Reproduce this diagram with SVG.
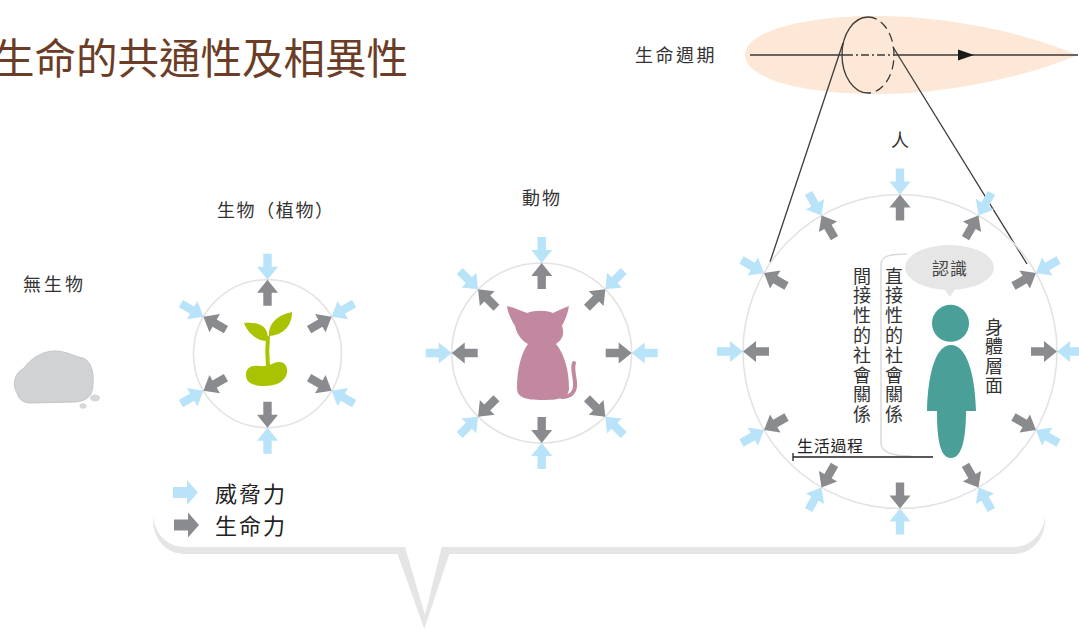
<svg xmlns="http://www.w3.org/2000/svg" xmlns:xlink="http://www.w3.org/1999/xlink" width="1079" height="629" viewBox="0 0 1079 629">
  <style>
    .cjk { font-family: "Noto Sans CJK TC", "Noto Sans CJK SC", sans-serif; }
    .label { fill: #333333; font-size: 18px; }
    .ring { fill: none; stroke: #e3e3e3; stroke-width: 1.6; }
    .life { fill: #8a8b8f; }
    .threat { fill: #b8e3f8; }
    .guide { fill: none; stroke: #3a3a3a; stroke-width: 1.3; }
    .vert { fill: #333333; font-size: 18px; text-anchor: middle; }
  </style>
  <defs>
    <!-- block arrow, tip at the origin, pointing along +x -->
    <path id="arr" d="M0,0 L-13,-10.5 L-13,-4.2 L-26,-4.2 L-26,4.2 L-13,4.2 L-13,10.5 Z"/>
    <!-- larger arrow used in the key -->
    <path id="key-arr" d="M0,0 L-11,-12.5 L-11,-5.5 L-25,-5.5 L-25,5.5 L-11,5.5 L-11,12.5 Z"/>
  </defs>

  <!-- speech-bubble style frame along the bottom -->
  <g id="callout">
    <path d="M153,500 L153,520 C153,539 166,554 185,554 L397.5,554 L424.3,629 L449.3,554 L1013,554 C1032,554 1045,539 1045,520 L1045,500 Z" fill="#e5e5e6"/>
    <path d="M153,492 L153,513 C153,532 166,547 185,547 L405,547 L425,615 L441.7,547 L1013,547 C1032,547 1045,532 1045,513 L1045,492 Z" fill="#ffffff"/>
  </g>

  <!-- heading -->
  <g id="title">
    <text class="cjk" x="-7" y="74" font-size="41.5" fill="#6b3d27">生命的共通性及相異性</text>
  </g>

  <!-- life cycle band -->
  <g id="lifecycle">
    <path d="M745,55 C745,31 805,16 875,16 C950,16 1025,33 1078,55 C1025,77 950,94 875,94 C805,94 745,79 745,55 Z" fill="#fde8d7"/>
    <line class="guide" x1="750" y1="55" x2="845" y2="55"/>
    <line class="guide" x1="845" y1="55" x2="893" y2="55" stroke-dasharray="8 3 2 3"/>
    <line class="guide" x1="893" y1="55" x2="1078" y2="55"/>
    <path d="M958,49.5 L974,55 L958,60.5 Z" fill="#1a1a1a"/>
    <path class="guide" d="M868,17 A26,38 0 0 0 868,93"/>
    <path class="guide" d="M868,17 A26,38 0 0 1 868,93" stroke-dasharray="9 5"/>
    <text class="cjk label" x="635" y="62" font-size="19" letter-spacing="2.5">生命週期</text>
  </g>

  <!-- lines opening the cross-section out to the person -->
  <g id="connectors">
    <line class="guide" x1="843" y1="43" x2="770" y2="262"/>
    <line class="guide" x1="893" y1="47" x2="1027" y2="264"/>
  </g>

  <!-- inanimate object: a stone -->
  <g id="node-inanimate">
    <text class="cjk label" x="23" y="291" letter-spacing="3">無生物</text>
    <path d="M17,393 C12,385 14,373 24,368 C31,358 44,350 57,351 C69,352 75,357 83,358 C91,361 94,372 93,383 C93,395 88,401 75,402 L31,403 C22,403 19,399 17,393 Z" fill="#d1d2d4" stroke="#c5c6c8" stroke-width="1"/>
    <ellipse cx="95" cy="398" rx="5" ry="3.5" fill="#d6d7d9"/>
    <ellipse cx="83" cy="406" rx="3.5" ry="2.8" fill="#d6d7d9"/>
  </g>

  <!-- living thing: plant -->
  <g id="node-plant">
    <text class="cjk label" x="217" y="217" letter-spacing="1.6">生物（植物）</text>
    <circle class="ring" cx="267.5" cy="353.7" r="74"/>
    <g transform="translate(267.5,353.7)">
      <use href="#arr" class="life" transform="rotate(30) translate(74,0)"/>
      <use href="#arr" class="life" transform="rotate(90) translate(74,0)"/>
      <use href="#arr" class="life" transform="rotate(150) translate(74,0)"/>
      <use href="#arr" class="life" transform="rotate(210) translate(74,0)"/>
      <use href="#arr" class="life" transform="rotate(270) translate(74,0)"/>
      <use href="#arr" class="life" transform="rotate(330) translate(74,0)"/>
      <use href="#arr" class="threat" transform="rotate(30) translate(74,0) rotate(180)"/>
      <use href="#arr" class="threat" transform="rotate(90) translate(74,0) rotate(180)"/>
      <use href="#arr" class="threat" transform="rotate(150) translate(74,0) rotate(180)"/>
      <use href="#arr" class="threat" transform="rotate(210) translate(74,0) rotate(180)"/>
      <use href="#arr" class="threat" transform="rotate(270) translate(74,0) rotate(180)"/>
      <use href="#arr" class="threat" transform="rotate(330) translate(74,0) rotate(180)"/>
    </g>
    <g fill="#a9c300">
      <path d="M246,375 C246,367 252,365 260,366 C268,367 272,363 278,362 C285,361 288,367 287,373 C285,382 276,386 264,386 C252,386 246,382 246,375 Z"/>
      <path d="M268,367 C267,356 267,346 268,336" fill="none" stroke="#a9c300" stroke-width="4"/>
      <path d="M244,323 C252,322 262,323 266,330 C268,334 268,338 267,341 C258,341 248,334 244,323 Z"/>
      <path d="M269,336 C268,325 276,315 292,312 C292,325 284,335 269,336 Z"/>
    </g>
  </g>

  <!-- living thing: animal -->
  <g id="node-animal">
    <text class="cjk label" x="522" y="205" font-size="19" letter-spacing="2">動物</text>
    <circle class="ring" cx="541.7" cy="353" r="90"/>
    <g transform="translate(541.7,353)">
      <use href="#arr" class="life" transform="rotate(0) translate(90,0)"/>
      <use href="#arr" class="life" transform="rotate(45) translate(90,0)"/>
      <use href="#arr" class="life" transform="rotate(90) translate(90,0)"/>
      <use href="#arr" class="life" transform="rotate(135) translate(90,0)"/>
      <use href="#arr" class="life" transform="rotate(180) translate(90,0)"/>
      <use href="#arr" class="life" transform="rotate(225) translate(90,0)"/>
      <use href="#arr" class="life" transform="rotate(270) translate(90,0)"/>
      <use href="#arr" class="life" transform="rotate(315) translate(90,0)"/>
      <use href="#arr" class="threat" transform="rotate(0) translate(90,0) rotate(180)"/>
      <use href="#arr" class="threat" transform="rotate(45) translate(90,0) rotate(180)"/>
      <use href="#arr" class="threat" transform="rotate(90) translate(90,0) rotate(180)"/>
      <use href="#arr" class="threat" transform="rotate(135) translate(90,0) rotate(180)"/>
      <use href="#arr" class="threat" transform="rotate(180) translate(90,0) rotate(180)"/>
      <use href="#arr" class="threat" transform="rotate(225) translate(90,0) rotate(180)"/>
      <use href="#arr" class="threat" transform="rotate(270) translate(90,0) rotate(180)"/>
      <use href="#arr" class="threat" transform="rotate(315) translate(90,0) rotate(180)"/>
    </g>
    <path d="M507,306 C515,308 522,311 527,313 C535,310 546,310 553,313 C558,311 563,308 569,306 C568,313 565,320 562,326 C565,334 562,340 556,344 C564,353 569,370 569,388 C569,397 562,400 543,400 C524,400 517,397 517,388 C517,370 521,353 528,344 C521,340 517,334 515,326 C511,320 508,313 507,306 Z" fill="#c2889f"/>
    <path d="M562,397 C571,397 576,392 575,382 C574,373 572,368 574,363" fill="none" stroke="#c2889f" stroke-width="4" stroke-linecap="round"/>
  </g>

  <!-- human -->
  <g id="node-human">
    <text class="cjk label" x="900" y="147" font-size="20" text-anchor="middle">人</text>
    <circle class="ring" cx="900" cy="351.5" r="157"/>
    <g transform="translate(900,351.5)">
      <use href="#arr" class="life" transform="rotate(0) translate(157,0)"/>
      <use href="#arr" class="life" transform="rotate(30) translate(157,0)"/>
      <use href="#arr" class="life" transform="rotate(60) translate(157,0)"/>
      <use href="#arr" class="life" transform="rotate(90) translate(157,0)"/>
      <use href="#arr" class="life" transform="rotate(120) translate(157,0)"/>
      <use href="#arr" class="life" transform="rotate(150) translate(157,0)"/>
      <use href="#arr" class="life" transform="rotate(180) translate(157,0)"/>
      <use href="#arr" class="life" transform="rotate(210) translate(157,0)"/>
      <use href="#arr" class="life" transform="rotate(240) translate(157,0)"/>
      <use href="#arr" class="life" transform="rotate(270) translate(157,0)"/>
      <use href="#arr" class="life" transform="rotate(300) translate(157,0)"/>
      <use href="#arr" class="life" transform="rotate(330) translate(157,0)"/>
      <use href="#arr" class="threat" transform="rotate(0) translate(157,0) rotate(180)"/>
      <use href="#arr" class="threat" transform="rotate(30) translate(157,0) rotate(180)"/>
      <use href="#arr" class="threat" transform="rotate(60) translate(157,0) rotate(180)"/>
      <use href="#arr" class="threat" transform="rotate(90) translate(157,0) rotate(180)"/>
      <use href="#arr" class="threat" transform="rotate(120) translate(157,0) rotate(180)"/>
      <use href="#arr" class="threat" transform="rotate(150) translate(157,0) rotate(180)"/>
      <use href="#arr" class="threat" transform="rotate(180) translate(157,0) rotate(180)"/>
      <use href="#arr" class="threat" transform="rotate(210) translate(157,0) rotate(180)"/>
      <use href="#arr" class="threat" transform="rotate(240) translate(157,0) rotate(180)"/>
      <use href="#arr" class="threat" transform="rotate(270) translate(157,0) rotate(180)"/>
      <use href="#arr" class="threat" transform="rotate(300) translate(157,0) rotate(180)"/>
      <use href="#arr" class="threat" transform="rotate(330) translate(157,0) rotate(180)"/>
    </g>

    <!-- bracket grouping the direct relations -->
    <path d="M907,254 C893,254 881,255 881,264 L881,443 C881,453 893,456 911,456" fill="none" stroke="#dadada" stroke-width="1.5"/>

    <!-- thought bubble -->
    <ellipse cx="949.5" cy="267.5" rx="44.5" ry="22.5" fill="#e6e6e7"/>
    <path d="M942,286 L950,297 L957,286 Z" fill="#e6e6e7"/>
    <text class="cjk" x="950" y="275" font-size="17" fill="#444444" text-anchor="middle" letter-spacing="1">認識</text>

    <!-- figure -->
    <g fill="#4a9f98">
      <circle cx="950.5" cy="323.3" r="18.5"/>
      <path d="M951,345 C936,345 928,372 927,411 L937,411 C937,435 939,458 951,458 C963,458 966,435 966,411 L976,411 C975,372 966,345 951,345 Z"/>
    </g>

    <!-- vertical captions, one character per line -->
    <text class="cjk vert">
      <tspan x="862" y="282.5">間</tspan><tspan x="862" y="302.3">接</tspan><tspan x="862" y="322.1">性</tspan><tspan x="862" y="341.9">的</tspan><tspan x="862" y="361.7">社</tspan><tspan x="862" y="381.5">會</tspan><tspan x="862" y="401.3">關</tspan><tspan x="862" y="421.1">係</tspan>
    </text>
    <text class="cjk vert">
      <tspan x="894" y="282.5">直</tspan><tspan x="894" y="302.3">接</tspan><tspan x="894" y="322.1">性</tspan><tspan x="894" y="341.9">的</tspan><tspan x="894" y="361.7">社</tspan><tspan x="894" y="381.5">會</tspan><tspan x="894" y="401.3">關</tspan><tspan x="894" y="421.1">係</tspan>
    </text>
    <text class="cjk vert">
      <tspan x="994" y="333.5">身</tspan><tspan x="994" y="353.1">體</tspan><tspan x="994" y="372.7">層</tspan><tspan x="994" y="392.3">面</tspan>
    </text>

    <!-- life course timeline -->
    <text class="cjk" x="797" y="452" font-size="16" fill="#222222" letter-spacing="0.7">生活過程</text>
    <line x1="793" y1="457" x2="933" y2="457" stroke="#222222" stroke-width="1.3"/>
    <line x1="793" y1="453" x2="793" y2="461" stroke="#222222" stroke-width="1.3"/>
  </g>

  <!-- key -->
  <g id="legend">
    <use href="#key-arr" class="threat" transform="translate(198,492.5)"/>
    <text class="cjk" x="215" y="502" font-size="22" fill="#222222" letter-spacing="2">威脅力</text>
    <use href="#key-arr" class="life" transform="translate(199,525)"/>
    <text class="cjk" x="215" y="534" font-size="22" fill="#222222" letter-spacing="2">生命力</text>
  </g>
</svg>
